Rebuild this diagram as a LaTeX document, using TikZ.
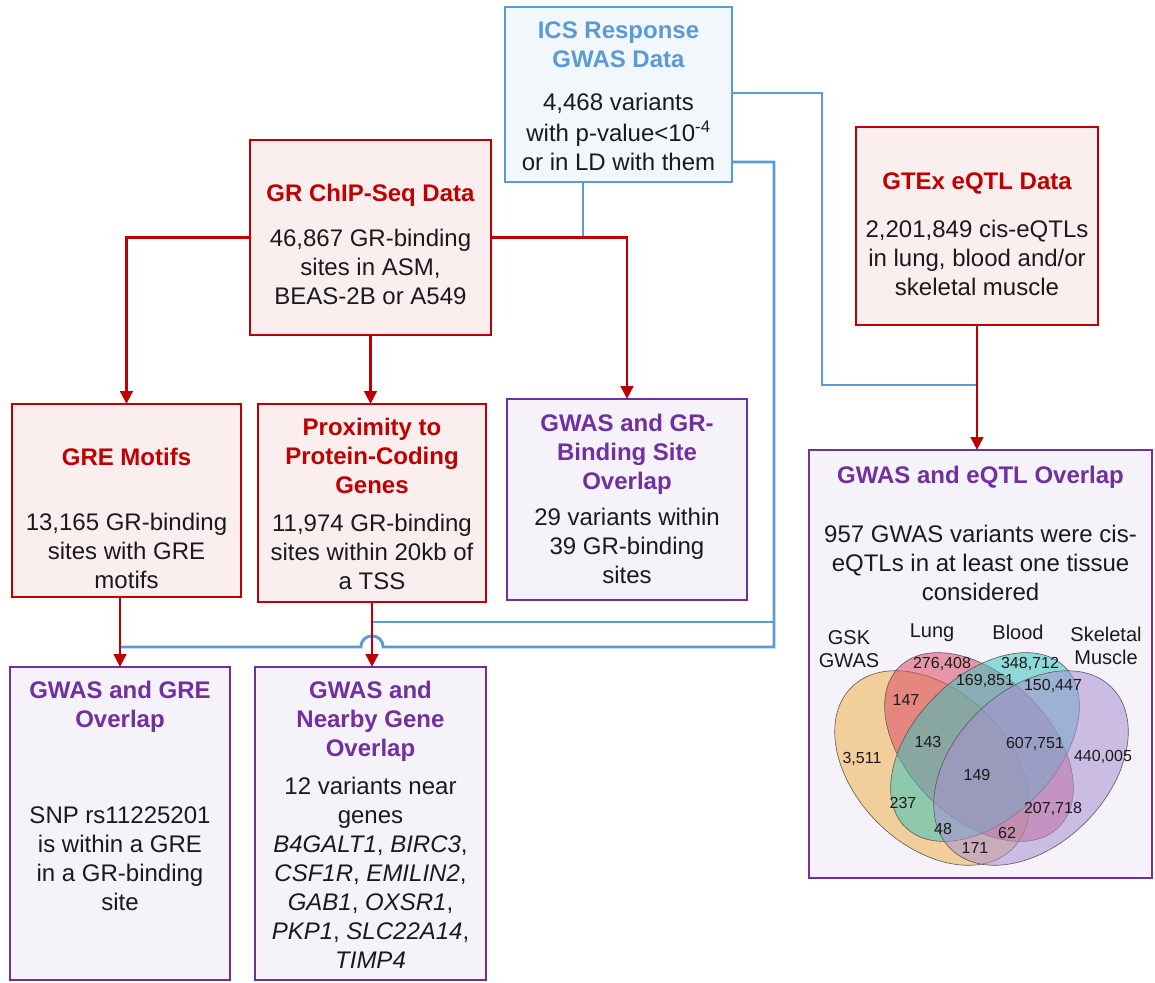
\documentclass[tikz,border=0pt]{standalone}
\usepackage{fontspec}
\setmainfont{Liberation Sans}
\usetikzlibrary{arrows.meta}
\definecolor{cred}{HTML}{C00000}
\definecolor{cpur}{HTML}{7030A0}
\definecolor{cblue}{HTML}{5B9BD5}
\definecolor{fred}{HTML}{FBEEEE}
\definecolor{fpur}{HTML}{F6F2F9}
\definecolor{fblue}{HTML}{F2F7FC}
\definecolor{ctext}{HTML}{1A1A1A}
\definecolor{vgsk}{HTML}{F0B44C}
\definecolor{vlung}{HTML}{DC4C6A}
\definecolor{vblood}{HTML}{3CC3BD}
\definecolor{vskel}{HTML}{A991D4}
\begin{document}
\begin{tikzpicture}[x=1pt,y=-1pt,
  box/.style={draw, line width=2.9pt, inner sep=0pt, outer sep=0pt},
  redbox/.style={box, draw=cred, fill=fred},
  purbox/.style={box, draw=cpur, fill=fpur},
  bluebox/.style={box, draw=cblue, fill=fblue},
  ttl/.style={font=\fontsize{24}{29}\selectfont\bfseries, align=center, inner sep=0pt, anchor=north, yshift=11.7pt},
  bod/.style={font=\fontsize{24}{29}\selectfont, text=ctext, align=center, inner sep=0pt, anchor=north, yshift=11.7pt},
  redarr/.style={draw=cred, line width=2.9pt, -{Triangle[length=13pt,width=12.5pt]}},
  blueln/.style={draw=cblue, line width=2.9pt},
  vell/.style={draw=black!65, line width=0.6pt},
  vnum/.style={font=\fontsize{16}{18}\selectfont, text=ctext, inner sep=0pt},
  vlab/.style={font=\fontsize{20}{23}\selectfont, text=ctext, inner sep=0pt, align=center}]
\fill[white] (0,0) rectangle (1155,982);
\useasboundingbox (0,0) rectangle (1155,982);

% ---------- boxes ----------
\node[bluebox, minimum width=227pt, minimum height=175pt] (ics) at (618.5,94.5) {};
\node[redbox, minimum width=241pt, minimum height=195pt] (grc) at (370.5,237.5) {};
\node[redbox, minimum width=242pt, minimum height=198pt] (gtex) at (977,226) {};
\node[redbox, minimum width=229pt, minimum height=193pt] (gre) at (126.5,500.5) {};
\node[redbox, minimum width=228pt, minimum height=198pt] (prox) at (372,503) {};
\node[purbox, minimum width=240pt, minimum height=201pt] (gwgr) at (627,499.5) {};
\node[purbox, minimum width=343pt, minimum height=428pt] (gweq) at (980.5,664) {};
\node[purbox, minimum width=220pt, minimum height=313pt] (gwgre) at (120,823.5) {};
\node[purbox, minimum width=231pt, minimum height=313pt] (gwng) at (370.5,823.5) {};

% ---------- blue connectors ----------
\coordinate (bj0) at (583,237.5);
\coordinate (bj1) at (822,385);
\coordinate (bj2) at (774,647);
\coordinate (bj3) at (774,622);
\draw[blueln] (ics.south -| bj0) -- (bj0);
\draw[blueln] (ics.east |- 0,93) -| (bj1) -- (bj1 -| gtex.south);
\draw[blueln] (ics.east |- 0,162) -| (bj2) -- (383,647) .. controls (383,632.3) and (361,632.3) .. (361,647) -- (bj2 -| gwgre.north);
\draw[blueln] (bj3) -- (bj3 -| prox.south);

% ---------- red connectors ----------
\draw[redarr] (grc.west) -| (gre.north);
\draw[redarr] (grc.east) -| (gwgr.north);
\draw[redarr] (grc.south) -- (grc.south |- prox.north);
\draw[redarr] (gre.south -| gwgre.north) -- (gwgre.north);
\draw[redarr] (prox.south) -- (prox.south |- gwng.north);
\draw[redarr] (gtex.south) -- (gtex.south |- gweq.north);

% ---------- texts ----------
\node[ttl, text=cblue] (icsT) at (618.5,30) {\strut ICS Response\\\strut GWAS Data};
\node[bod] (icsB) at (618.5,102) {\strut 4,468 variants\\\strut with p-value<10\textsuperscript{-4}\\\strut or in LD with them};

\node[ttl, text=cred] (grcT) at (370.5,193) {\strut GR ChIP-Seq Data};
\node[bod] (grcB) at (370.5,238) {\strut 46,867 GR-binding\\\strut sites in ASM,\\\strut BEAS-2B or A549};

\node[ttl, text=cred] (gtexT) at (977,181) {\strut GTEx eQTL Data};
\node[bod] (gtexB) at (977,229) {\strut 2,201,849 cis-eQTLs\\\strut in lung, blood and/or\\\strut skeletal muscle};

\node[ttl, text=cred] (greT) at (126.5,457) {\strut GRE Motifs};
\node[bod] (greB) at (126.5,522) {\strut 13,165 GR-binding\\\strut sites with GRE\\\strut motifs};

\node[ttl, text=cred] (proxT) at (372,427) {\strut Proximity to\\\strut Protein-Coding\\\strut Genes};
\node[bod] (proxB) at (372,523) {\strut 11,974 GR-binding\\\strut sites within 20kb of\\\strut a TSS};

\node[ttl, text=cpur] (gwgrT) at (627,423) {\strut GWAS and GR-\\\strut Binding Site\\\strut Overlap};
\node[bod] (gwgrB) at (627,517) {\strut 29 variants within\\\strut 39 GR-binding\\\strut sites};

\node[ttl, text=cpur] (gweqT) at (980.5,475) {\strut GWAS and eQTL Overlap};
\node[bod] (gweqB) at (980.5,534) {\strut 957 GWAS variants were cis-\\\strut eQTLs in at least one tissue\\\strut considered};

\node[ttl, text=cpur] (gwgreT) at (120,690) {\strut GWAS and GRE\\\strut Overlap};
\node[bod] (gwgreB) at (120,815) {\strut SNP rs11225201\\\strut is within a GRE\\\strut in a GR-binding\\\strut site};

\node[ttl, text=cpur] (gwngT) at (370.5,690) {\strut GWAS and\\\strut Nearby Gene\\\strut Overlap};
\node[bod] (gwngB) at (370.5,786) {\strut 12 variants near\\\strut genes\\\strut \textit{B4GALT1}, \textit{BIRC3},\\\strut \textit{CSF1R}, \textit{EMILIN2},\\\strut \textit{GAB1}, \textit{OXSR1},\\\strut \textit{PKP1}, \textit{SLC22A14},\\\strut \textit{TIMP4}};

% ---------- Venn diagram ----------
\draw[vell, fill=vgsk, fill opacity=.55, rotate around={-45:(932,768)}] (932,768) ellipse [x radius=114, y radius=77];
\draw[vell, fill=vlung, fill opacity=.55, rotate around={-45:(979,747)}] (979,747) ellipse [x radius=113, y radius=71];
\draw[vell, fill=vblood, fill opacity=.55, rotate around={45:(985,747)}] (985,747) ellipse [x radius=113, y radius=71];
\draw[vell, fill=vskel, fill opacity=.55, rotate around={45:(1031,768)}] (1031,768) ellipse [x radius=114, y radius=77];

\node[vlab] (lgsk) at (849,649.5) {GSK\\GWAS};
\node[vlab] (llung) at (932,633) {Lung};
\node[vlab] (lblood) at (1018,632) {Blood};
\node[vlab] (lskel) at (1106,646) {Skeletal\\Muscle};

\node[vnum] (n1) at (862,759) {3,511};
\node[vnum] (n2) at (942,664) {276,408};
\node[vnum] (n3) at (1030,664) {348,712};
\node[vnum] (n4) at (985,681) {169,851};
\node[vnum] (n5) at (1053,686) {150,447};
\node[vnum] (n6) at (906,700) {147};
\node[vnum] (n7) at (928,742) {143};
\node[vnum] (n8) at (1035,744) {607,751};
\node[vnum] (n9) at (1103,757) {440,005};
\node[vnum] (n10) at (977,775) {149};
\node[vnum] (n11) at (903,803) {237};
\node[vnum] (n12) at (1053,809) {207,718};
\node[vnum] (n13) at (943,829) {48};
\node[vnum] (n14) at (1007,833) {62};
\node[vnum] (n15) at (975,848) {171};
\end{tikzpicture}
\end{document}
